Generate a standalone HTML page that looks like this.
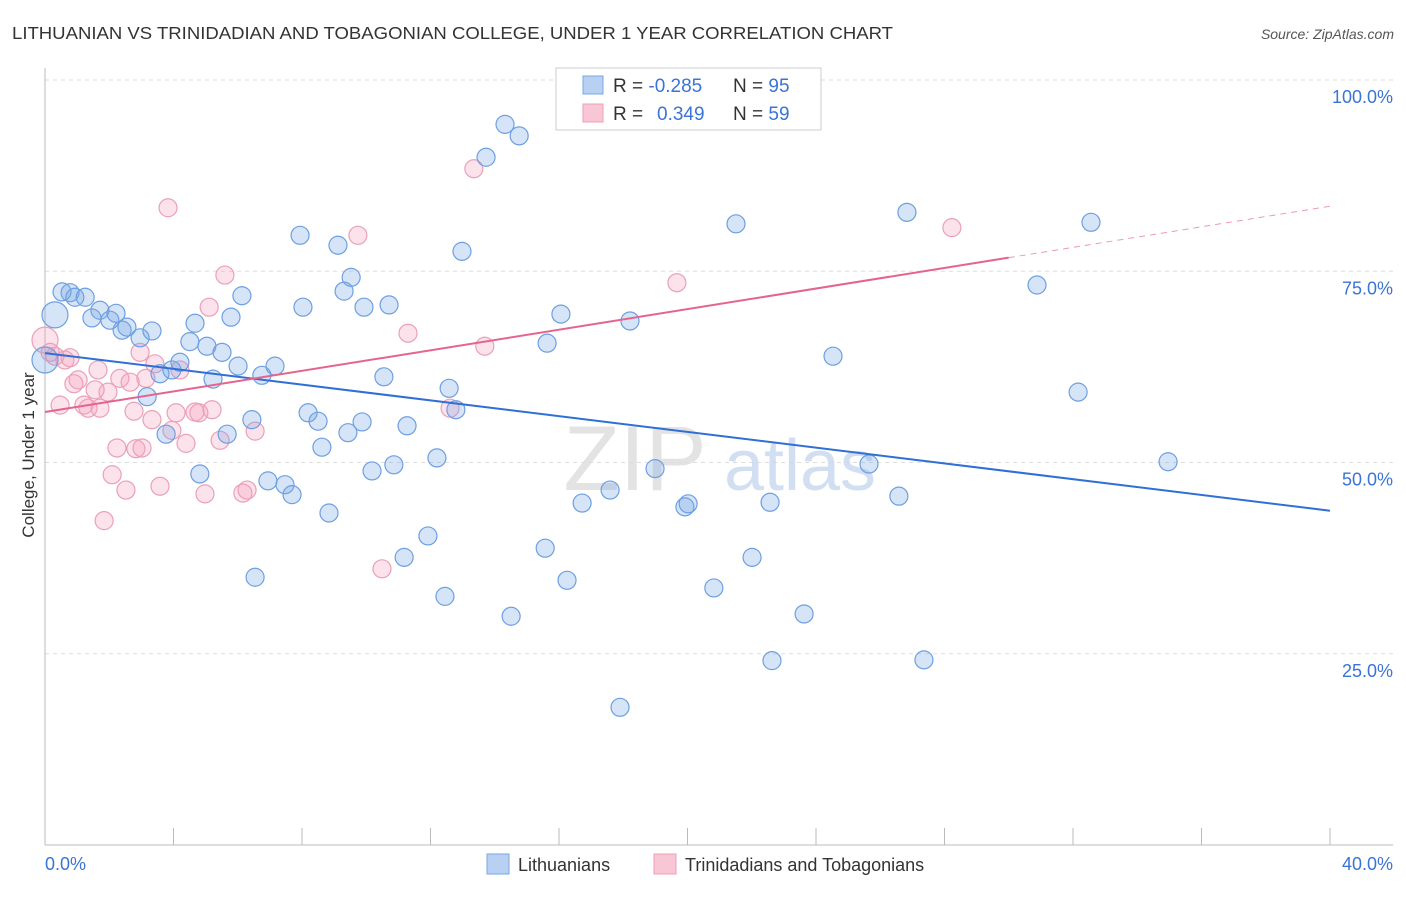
<!DOCTYPE html>
<html><head><meta charset="utf-8"><style>
body{margin:0;background:#fff;font-family:"Liberation Sans",sans-serif;}
svg text{font-family:"Liberation Sans",sans-serif;}
</style></head><body>
<svg id="c" width="1406" height="892" xmlns="http://www.w3.org/2000/svg">
<text x="12" y="39" font-size="17.5" fill="#333" textLength="881" lengthAdjust="spacingAndGlyphs">LITHUANIAN VS TRINIDADIAN AND TOBAGONIAN COLLEGE, UNDER 1 YEAR CORRELATION CHART</text>
<text x="1394" y="39" font-size="14" fill="#555" text-anchor="end" font-style="italic">Source: ZipAtlas.com</text>
<text x="34" y="455" font-size="17" fill="#333" text-anchor="middle" transform="rotate(-90 34 455)">College, Under 1 year</text>
<g id="grid"></g>
<g><text x="635" y="490" font-size="92" fill="#ddd" text-anchor="middle" font-family="Liberation Serif" opacity="0.8">ZIP</text><text x="800" y="490" font-size="72" fill="#c7d8ef" text-anchor="middle" opacity="0.8">atlas</text></g>
<line x1="45" y1="68" x2="45" y2="845" stroke="#bbb"/>
<line x1="45" y1="845" x2="1393" y2="845" stroke="#bbb"/>
<g id="ticks"></g>
<g id="pts"></g>
<g id="lines"></g>
<g>
<rect x="556" y="68" width="265" height="62" fill="#fff" stroke="#ccc"/>
<rect x="583" y="76" width="20" height="18" fill="#b8d1f3" stroke="#7aa6e3"/>
<rect x="583" y="104" width="20" height="18" fill="#f9c6d5" stroke="#eba0b8"/>
<text x="613" y="92" font-size="19" fill="#333">R = <tspan fill="#3a74d6">-0.285</tspan><tspan x="733">N = </tspan><tspan fill="#3a74d6">95</tspan></text>
<text x="613" y="120" font-size="19" fill="#333">R = <tspan x="657" fill="#3a74d6">0.349</tspan><tspan x="733">N = </tspan><tspan fill="#3a74d6">59</tspan></text>
</g>
<g>
<rect x="487" y="854" width="22" height="20" fill="#b8d1f3" stroke="#7aa6e3"/>
<text x="518" y="871" font-size="18" fill="#333">Lithuanians</text>
<rect x="654" y="854" width="22" height="20" fill="#f9c6d5" stroke="#eba0b8"/>
<text x="685" y="871" font-size="18" fill="#333">Trinidadians and Tobagonians</text>
</g>
<text x="45" y="870" font-size="18" fill="#3a74d6">0.0%</text>
<text x="1393" y="870" font-size="18" fill="#3a74d6" text-anchor="end">40.0%</text>
</svg>
<script>
const yTicks=[25,50,75,100];
const yTickLabels=["25.0%","50.0%","75.0%","100.0%"];
const xTicks=[0,4,8,12,16,20,24,28,32,36,40];
const blueX=[0.31,0,0.53,0.78,0.93,1.25,1.46,1.71,2.02,2.21,2.40,2.55,2.96,3.33,3.18,3.58,3.77,3.95,4.20,4.51,4.67,4.82,5.04,5.23,5.51,5.67,5.79,6.01,6.13,6.44,6.54,6.75,6.94,7.16,7.47,7.69,7.94,8.03,8.19,8.50,8.62,8.84,9.12,9.31,9.43,9.53,9.87,9.93,10.18,10.55,10.71,10.86,11.18,11.27,11.92,12.20,12.45,12.58,12.79,12.98,13.73,14.32,14.51,14.76,15.57,15.63,16.06,16.25,16.72,17.59,17.90,18.21,18.99,19.92,20.02,20.82,21.51,22.01,22.57,22.63,23.63,24.53,25.65,26.58,26.83,27.36,30.88,32.16,32.56,34.96];
const blueY=[69.3,63.4,72.3,72.2,71.6,71.6,68.9,69.9,68.6,69.5,67.3,67.7,66.3,67.2,58.6,61.6,53.7,62.1,63.1,65.8,68.2,48.5,65.2,60.9,64.4,53.7,69.0,62.6,71.8,55.6,35.0,61.4,47.6,62.6,47.1,45.8,79.7,70.3,56.5,55.4,52.0,43.4,78.4,72.4,53.9,74.2,55.3,70.3,48.9,61.2,70.6,49.7,37.6,54.8,40.4,50.6,32.5,59.7,56.9,77.6,89.9,94.2,29.9,92.7,38.8,65.6,69.4,34.6,44.7,46.4,18.0,68.5,49.2,44.2,44.6,33.6,81.2,37.6,44.8,24.1,30.2,63.9,49.8,45.6,82.7,24.2,73.2,59.2,81.4,50.1];
const pinkX=[0,0.16,0.31,0.47,0.62,0.78,0.90,1.03,1.21,1.34,1.56,1.65,1.71,1.84,1.96,2.09,2.24,2.33,2.52,2.65,2.77,2.83,2.96,3.02,3.14,3.33,3.42,3.58,3.83,3.95,4.08,4.20,4.39,4.67,4.79,4.98,5.11,5.20,5.45,5.60,6.16,6.29,6.54,9.74,10.49,11.30,12.61,13.35,13.69,19.67,28.23];
const pinkY=[66.0,64.4,63.9,57.5,63.4,63.7,60.3,60.8,57.5,57.1,59.5,62.1,57.1,42.4,59.2,48.4,51.9,61.0,46.4,60.5,56.7,51.8,64.4,51.9,61.0,55.6,62.9,46.9,83.3,54.2,56.5,62.1,52.5,56.6,56.5,45.9,70.3,56.9,52.9,74.5,46.0,46.4,54.1,79.7,36.1,66.9,57.1,88.4,65.2,73.5,80.7];
const blueTrend=[64.3,43.7];
const pinkTrend=[56.6,83.5];
const pinkSolidEnd=30;
const NS="http://www.w3.org/2000/svg";
const X=v=>45+v*32.125, Y=v=>845-v*7.65;
function mk(t,a,p){const e=document.createElementNS(NS,t);for(const k in a)e.setAttribute(k,a[k]);p.appendChild(e);return e;}
const grid=document.getElementById('grid');
yTicks.forEach((t,i)=>{
 const l=mk('line',{x1:45,x2:1393,y1:Y(t),y2:Y(t),stroke:'#ddd','stroke-dasharray':'4,4'},grid);
 
 
 const tx=mk('text',{x:1393,y:Y(t)+23,'font-size':18,fill:'#3a74d6','text-anchor':'end'},grid);
 tx.textContent=yTickLabels[i];
 
 
});
const tk=document.getElementById('ticks');
xTicks.forEach(t=>{const l=mk('line',{x1:X(t),x2:X(t),y1:828,y2:845,stroke:'#bbb'},tk);
 
 });
const pts=document.getElementById('pts');
function dots(xs,ys,fill,stroke,name){xs.forEach((x,i)=>{
 const r=(i<2&&x<0.35)?13:9;
 const c=mk('circle',{cx:X(x),cy:Y(ys[i]),r:(name==='pink-point'&&i===1)?9:r,fill:fill,stroke:stroke,'stroke-width':1.2},pts);
 
 });}
dots(pinkX,pinkY,'rgba(244,160,190,0.3)','#eba0b8','pink-point');
dots(blueX,blueY,'rgba(120,165,230,0.3)','#6e9fe2','blue-point');
const ln=document.getElementById('lines');
let b=mk('line',{x1:X(0),y1:Y(blueTrend[0]),x2:X(40),y2:Y(blueTrend[1]),stroke:'#2f6fd6','stroke-width':2},ln);


const pm=pinkTrend[0]+(pinkTrend[1]-pinkTrend[0])*pinkSolidEnd/40;
let p=mk('line',{x1:X(0),y1:Y(pinkTrend[0]),x2:X(pinkSolidEnd),y2:Y(pm),stroke:'#e5648f','stroke-width':2},ln);


let pd=mk('line',{x1:X(pinkSolidEnd),y1:Y(pm),x2:X(40),y2:Y(pinkTrend[1]),stroke:'#e99ab5','stroke-width':1,'stroke-dasharray':'6,5'},ln);


</script>
</body></html>
